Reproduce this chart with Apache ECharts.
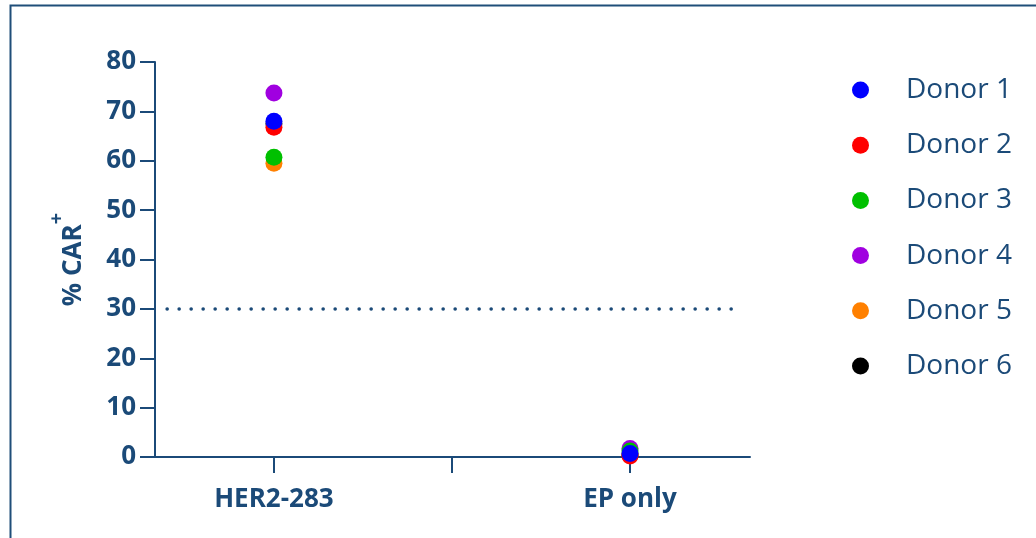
<!DOCTYPE html>
<html>
<head>
<meta charset="utf-8">
<title>% CAR+ by donor</title>
<script src="https://cdn.jsdelivr.net/npm/echarts@6/dist/echarts.min.js"></script>
<style>
  html, body { margin: 0; padding: 0; background: #fff; }
  #chart { width: 1036px; height: 538px; }
</style>
</head>
<body>
<div id="chart"></div>
<script>
// 分组
const categories = ['HER2-283', 'EP only'];
const donors = ['Donor 1', 'Donor 2', 'Donor 3', 'Donor 4', 'Donor 5', 'Donor 6'];
const donorColors = ['#0000ff', '#ff0000', '#00c000', '#a000e0', '#ff8000', '#000000'];
// 每个供体在两组中的 % CAR+
const donor1 = [68.0, 0.7];
const donor2 = [66.8, 0.2];
const donor3 = [60.7, 1.2];
const donor4 = [73.7, 1.7];
const donor5 = [59.5, 0.5];
const donor6 = [67.5, 0.4];
const donorValues = [donor1, donor2, donor3, donor4, donor5, donor6];
const threshold = 30;
const yTicks = [0, 10, 20, 30, 40, 50, 60, 70, 80];

const ink = '#1b4a78';
const font = 'Open Sans';

const myChart = echarts.init(document.getElementById('chart'));

// 散点系列，编号小的画在上面
const series = donors.map(function (name, i) {
  return {
    name: name,
    type: 'scatter',
    z: 10 - i,
    symbol: 'circle',
    symbolSize: 17,
    itemStyle: { color: donorColors[i], opacity: 1 },
    data: donorValues[i].map(function (v, k) { return [k, v]; })
  };
});

// 阈值虚线
series.push({
  type: 'scatter',
  data: [],
  silent: true,
  markLine: {
    silent: true,
    symbol: 'none',
    label: { show: false },
    lineStyle: { color: ink, width: 3.5, type: [0.1, 11.9], cap: 'round' },
    data: [[{ coord: [-0.3, threshold] }, { coord: [1.31, threshold] }]]
  }
});

const option = {
  animation: false,
  backgroundColor: '#fff',
  textStyle: { fontFamily: font },
  graphic: [{
    type: 'rect',
    shape: { x: 10.5, y: 5.5, width: 1100, height: 600 },
    style: { fill: 'none', stroke: '#1f4e79', lineWidth: 2 },
    silent: true
  }],
  grid: { left: 155, right: 286, top: 62, bottom: 81 },
  legend: {
    orient: 'vertical',
    left: 852,
    top: 76,
    padding: 0,
    itemWidth: 17,
    itemHeight: 17,
    itemGap: 27.2,
    icon: 'circle',
    selectedMode: false,
    data: donors,
    textStyle: { color: ink, fontFamily: font, fontSize: 28, lineHeight: 25, padding: [0, 0, 0, 32] }
  },
  xAxis: {
    type: 'value',
    min: -0.334,
    max: 1.337,
    splitLine: { show: false },
    axisLine: { onZero: false, lineStyle: { color: ink, width: 2 } },
    axisTick: { show: true, length: 16, customValues: [0, 0.5, 1], lineStyle: { color: ink, width: 2 } },
    axisLabel: {
      customValues: [0, 1],
      formatter: function (v) { return categories[Math.round(v)]; },
      color: ink,
      fontFamily: font,
      fontSize: 26,
      fontWeight: 'bold',
      margin: 30
    }
  },
  yAxis: {
    type: 'value',
    min: 0,
    max: 80,
    interval: 10,
    splitLine: { show: false },
    axisLine: { show: true, onZero: false, lineStyle: { color: ink, width: 2 } },
    axisTick: { show: true, length: 15, lineStyle: { color: ink, width: 2 } },
    axisLabel: {
      customValues: yTicks,
      color: ink,
      fontFamily: font,
      fontSize: 26,
      fontWeight: 'bold',
      margin: 19
    },
    name: '{a|% CAR}{s|+}',
    nameLocation: 'middle',
    nameGap: 68,
    nameRotate: 90,
    nameTextStyle: {
      rich: {
        a: { color: ink, fontFamily: font, fontSize: 26, fontWeight: 'bold', lineHeight: 40, verticalAlign: 'bottom' },
        s: { color: ink, fontFamily: font, fontSize: 20, fontWeight: 'bold', lineHeight: 20, verticalAlign: 'top' }
      }
    }
  },
  series: series
};

myChart.setOption(option);
</script>
</body>
</html>
